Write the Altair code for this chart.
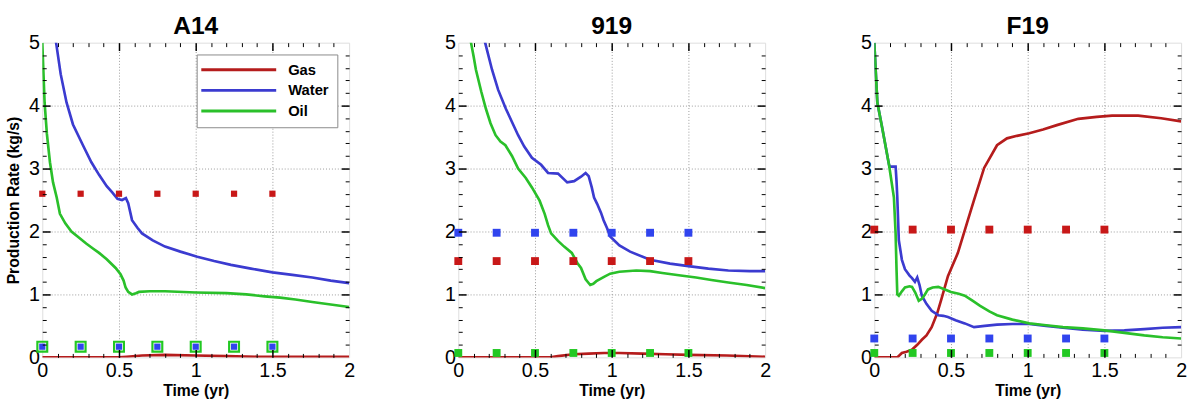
import altair as alt
import pandas as pd

# ---------------- data ----------------
SERIES = ["Gas", "Water", "Oil"]
PANELS = ["A14", "919", "F19"]

# A14
a14_gas_t = [0, 0.5, 0.55, 0.65, 0.8, 1.0, 1.2, 1.4, 2.0]
a14_gas_y = [0, 0, 0.01, 0.03, 0.04, 0.03, 0.02, 0.01, 0.01]
a14_water_t = [0.075, 0.09, 0.12, 0.158, 0.2, 0.265, 0.32, 0.37, 0.42, 0.456, 0.49, 0.52, 0.545,
               0.56, 0.585, 0.62, 0.65, 0.72, 0.8, 0.9, 1.01, 1.12, 1.23, 1.36, 1.5, 1.63, 1.76, 1.88, 2.0]
a14_water_y = [5.6, 5.0, 4.5, 4.05, 3.7, 3.37, 3.1, 2.9, 2.72, 2.62, 2.52, 2.5, 2.53,
               2.45, 2.18, 2.06, 1.97, 1.86, 1.76, 1.68, 1.6, 1.53, 1.47, 1.41, 1.35, 1.31, 1.27, 1.22, 1.18]
a14_oil_t = [0, 0.015, 0.03, 0.05, 0.07, 0.094, 0.115, 0.15, 0.19, 0.24, 0.286, 0.33, 0.37, 0.42, 0.478,
             0.51, 0.53, 0.543, 0.56, 0.585, 0.61, 0.63, 0.7, 0.8, 1.0, 1.2, 1.33, 1.45, 1.55, 1.65, 1.76, 1.88, 2.0]
a14_oil_y = [5.0, 4.05, 3.55, 3.1, 2.78, 2.54, 2.28, 2.13, 2.0, 1.9, 1.81, 1.73, 1.66, 1.56, 1.42,
             1.32, 1.22, 1.11, 1.04, 1.0, 1.02, 1.04, 1.05, 1.05, 1.03, 1.02, 1.0, 0.97, 0.95, 0.92, 0.88, 0.84, 0.8]

# 919
p919_gas_t = [0, 0.6, 0.65, 0.75, 0.85, 0.95, 1.05, 1.2, 1.35, 1.5, 1.75, 2.0]
p919_gas_y = [0, 0, 0.02, 0.05, 0.06, 0.07, 0.07, 0.06, 0.05, 0.04, 0.03, 0.01]
p919_water_t = [0.16, 0.175, 0.22, 0.26, 0.31, 0.35, 0.39, 0.43, 0.48, 0.54, 0.585, 0.65, 0.71, 0.755, 0.8,
                0.83, 0.85, 0.87, 0.885, 0.905, 0.93, 0.947, 0.97, 0.99, 1.05, 1.12, 1.25, 1.38, 1.5, 1.63,
                1.76, 1.9, 2.0]
p919_water_y = [5.3, 5.0, 4.57, 4.25, 3.95, 3.74, 3.53, 3.35, 3.17, 3.06, 2.93, 2.92, 2.78, 2.8, 2.87,
                2.93, 2.88, 2.7, 2.54, 2.44, 2.3, 2.18, 2.05, 1.92, 1.78, 1.68, 1.55, 1.49, 1.45, 1.41,
                1.38, 1.37, 1.37]
p919_oil_t = [0.075, 0.083, 0.1, 0.115, 0.15, 0.18, 0.21, 0.243, 0.275, 0.307, 0.35, 0.39, 0.44, 0.48, 0.53,
              0.563, 0.585, 0.605, 0.65, 0.69, 0.74, 0.776, 0.8, 0.83, 0.86, 0.88, 0.9, 0.95, 0.99, 1.05,
              1.16, 1.25, 1.33, 1.45, 1.55, 1.65, 1.76, 1.88, 2.0]
p919_oil_y = [5.4, 5.0, 4.78, 4.57, 4.22, 3.95, 3.72, 3.53, 3.43, 3.37, 3.2, 3.0, 2.85, 2.7, 2.49,
              2.28, 2.1, 1.97, 1.85, 1.76, 1.66, 1.5, 1.42, 1.24, 1.15, 1.17, 1.21, 1.28, 1.33, 1.36,
              1.38, 1.37, 1.34, 1.3, 1.27, 1.23, 1.19, 1.15, 1.1]

# F19
f19_gas_t = [0, 0.15, 0.18, 0.21, 0.245, 0.28, 0.31, 0.34, 0.374, 0.41, 0.438, 0.48, 0.545, 0.61, 0.65,
             0.716, 0.8, 0.865, 0.93, 1.01, 1.1, 1.19, 1.33, 1.45, 1.55, 1.72, 1.87, 2.0]
f19_gas_y = [0, 0, 0.07, 0.09, 0.12, 0.2, 0.28, 0.35, 0.48, 0.7, 0.93, 1.29, 1.66, 2.18, 2.5,
             3.01, 3.37, 3.48, 3.52, 3.56, 3.62, 3.69, 3.79, 3.82, 3.84, 3.84, 3.8, 3.75]
f19_water_t = [0, 0.02, 0.053, 0.096, 0.1, 0.139, 0.145, 0.15, 0.16, 0.18, 0.2, 0.23, 0.246, 0.265, 0.28,
               0.295, 0.31, 0.34, 0.374, 0.417, 0.45, 0.48, 0.53, 0.59, 0.65, 0.72, 0.8, 0.9, 1.01, 1.12,
               1.23, 1.36, 1.5, 1.63, 1.76, 1.88, 2.0]
f19_water_y = [5.0, 4.05, 3.63, 3.06, 3.03, 3.03, 2.8, 2.54, 1.86, 1.55, 1.40, 1.3, 1.26, 1.2, 1.27,
               1.15, 0.98, 0.85, 0.74, 0.67, 0.66, 0.64, 0.59, 0.54, 0.48, 0.5, 0.52, 0.53, 0.53, 0.5,
               0.47, 0.44, 0.42, 0.43, 0.45, 0.47, 0.48]
f19_oil_t = [0, 0.02, 0.053, 0.096, 0.128, 0.139, 0.145, 0.15, 0.16, 0.18, 0.2, 0.23, 0.246, 0.267, 0.29,
             0.31, 0.33, 0.35, 0.38, 0.417, 0.46, 0.5, 0.55, 0.59, 0.64, 0.69, 0.75, 0.8, 0.9, 1.01, 1.12,
             1.23, 1.36, 1.5, 1.63, 1.76, 1.88, 2.0]
f19_oil_y = [5.0, 4.05, 3.63, 3.06, 2.54, 1.97, 1.4, 1.0, 0.98, 1.05, 1.11, 1.13, 1.12, 1.03, 0.9,
             0.93, 1.0, 1.08, 1.11, 1.12, 1.08, 1.04, 1.01, 0.98, 0.9, 0.82, 0.73, 0.67, 0.6, 0.54, 0.51,
             0.48, 0.46, 0.43, 0.39, 0.35, 0.32, 0.3]

# observed (square markers)
marker_t = [0, 0.25, 0.5, 0.75, 1.0, 1.25, 1.5]
a14_markers = {"Gas": 2.6, "Water": 0.17, "Oil": 0.17}
p919_markers = {"Gas": 1.53, "Water": 1.98, "Oil": 0.07}
f19_markers = {"Gas": 2.03, "Water": 0.30, "Oil": 0.07}

x_major = [0.5, 1.0, 1.5]
x_labels = [0, 0.5, 1, 1.5, 2]
x_minor = [0.1, 0.2, 0.3, 0.4, 0.6, 0.7, 0.8, 0.9, 1.1, 1.2, 1.3, 1.4, 1.6, 1.7, 1.8, 1.9]
y_major = [1, 2, 3, 4]
y_labels = [0, 1, 2, 3, 4, 5]
y_minor = [0.2, 0.4, 0.6, 0.8, 1.2, 1.4, 1.6, 1.8, 2.2, 2.4, 2.6, 2.8, 3.2, 3.4, 3.6, 3.8,
           4.2, 4.4, 4.6, 4.8]

curves = {
    "A14": {"Gas": (a14_gas_t, a14_gas_y), "Water": (a14_water_t, a14_water_y), "Oil": (a14_oil_t, a14_oil_y)},
    "919": {"Gas": (p919_gas_t, p919_gas_y), "Water": (p919_water_t, p919_water_y), "Oil": (p919_oil_t, p919_oil_y)},
    "F19": {"Gas": (f19_gas_t, f19_gas_y), "Water": (f19_water_t, f19_water_y), "Oil": (f19_oil_t, f19_oil_y)},
}
markers = {"A14": a14_markers, "919": p919_markers, "F19": f19_markers}

LINE_COLORS = ["#B51C1C", "#3B3BD0", "#2AC02A"]
MARK_COLORS = ["#C81818", "#3044EE", "#22C822"]
FONT = "Liberation Sans"

W, H = 312, 320
XS = alt.Scale(domain=[0, 2], nice=False, zero=False)
YS = alt.Scale(domain=[0, 5], nice=False, zero=False)


def label_axis(orient, values, title, edge):
    return alt.Axis(
        orient=orient, values=values, format="~g", labelFontSize=20, labelFont=FONT,
        labelColor="black", labelFlush=False, labelPadding=3, ticks=False, domain=False,
        grid=True, gridColor="#9a9a9a", gridDash=[1, 2], gridWidth=1,
        gridOpacity={"condition": {"test": f"datum.value == 0 || datum.value == {edge}", "value": 0},
                     "value": 1},
        title=title, titleFont=FONT, titleFontWeight="bold",
        titleFontSize=16, titleColor="black",
        titlePadding=3 if orient == "bottom" else 7,
    )


def tick_axis(orient, values, size, width):
    return alt.Axis(
        orient=orient, values=values, labels=False, domain=False, grid=False, ticks=True,
        tickSize=size, tickWidth=width, tickColor="black", offset=-size, title=None, zindex=1,
    )


def panel(name, first):
    rows = []
    for s in SERIES:
        t, y = curves[name][s]
        for ti, yi in zip(t, y):
            rows.append({"t": ti, "rate": yi, "series": s})
    ldf = pd.DataFrame(rows)
    mrows = []
    for s in SERIES:
        for ti in marker_t:
            mrows.append({"t": ti, "rate": markers[name][s], "series": s,
                          "hollow": (name == "A14" and s == "Oil")})
    mdf = pd.DataFrame(mrows)

    # long horizontal stroke symbol whose layout box stays small (keeps rows compact)
    legend = (alt.Legend(orient="top-right", offset=12, title=None, fillColor="white",
                         strokeColor="#8a8a8a", padding=8, symbolType="M-2.84,0H17.16",
                         symbolSize=58, symbolStrokeWidth=3, labelFont=FONT,
                         labelFontSize=15, labelFontWeight="bold", labelColor="black",
                         labelOffset=70, rowPadding=5)
              if first else None)

    lines = alt.Chart(ldf).mark_line(strokeWidth=2.7, clip=True).encode(
        x=alt.X("t:Q", scale=XS, axis=label_axis("bottom", x_labels, "Time (yr)", 2)),
        y=alt.Y("rate:Q", scale=YS,
                axis=label_axis("left", y_labels, "Production Rate (kg/s)" if first else None, 5)),
        color=alt.Color("series:N", scale=alt.Scale(domain=SERIES, range=LINE_COLORS),
                        sort=SERIES, legend=legend),
        order=alt.Order("t:Q"),
    )

    fill_scale = alt.Scale(domain=SERIES, range=MARK_COLORS)
    hollow = alt.Chart(mdf).transform_filter("datum.hollow").mark_square(
        filled=False, size=100, strokeWidth=2.2, opacity=1).encode(
        x=alt.X("t:Q", scale=XS, axis=None),
        y=alt.Y("rate:Q", scale=YS, axis=None),
        stroke=alt.Stroke("series:N", scale=fill_scale, legend=None),
    )
    filled = alt.Chart(mdf).transform_filter("!datum.hollow").mark_square(
        size=64, opacity=1).encode(
        x=alt.X("t:Q", scale=XS, axis=tick_axis("bottom", x_major, 8, 1.5)),
        y=alt.Y("rate:Q", scale=YS, axis=tick_axis("left", y_major, 8, 1.5)),
        fill=alt.Fill("series:N", scale=fill_scale, legend=None),
    )
    if name == "A14":
        filled = filled.mark_square(size=40, opacity=1)

    def dummy(xa, ya):
        return alt.Chart(mdf).mark_point(opacity=0).encode(
            x=alt.X("t:Q", scale=XS, axis=xa),
            y=alt.Y("rate:Q", scale=YS, axis=ya),
        )

    layers = [
        lines,
        dummy(tick_axis("top", x_major, 8, 1.5), tick_axis("right", y_major, 8, 1.5)),
        dummy(tick_axis("bottom", x_minor, 4, 1), tick_axis("left", y_minor, 4, 1)),
        dummy(tick_axis("top", x_minor, 4, 1), tick_axis("right", y_minor, 4, 1)),
        hollow,
        filled,
    ]
    return alt.layer(*layers).resolve_axis(x="independent", y="independent").properties(
        width=W, height=H,
        title=alt.TitleParams(text=name, fontSize=25, fontWeight="bold", font=FONT,
                              color="black", anchor="middle", frame="group", offset=-6),
    )


chart = alt.hconcat(*[panel(p, i == 0) for i, p in enumerate(PANELS)], spacing=89).resolve_legend(
    color="independent").resolve_scale(stroke="independent").properties(
    padding={"left": 5, "top": 10, "right": 0, "bottom": 0}
).configure_view(stroke="black", strokeWidth=2).configure(font=FONT)

chart.save("out.html", embed_options={"renderer": "svg", "actions": False})
